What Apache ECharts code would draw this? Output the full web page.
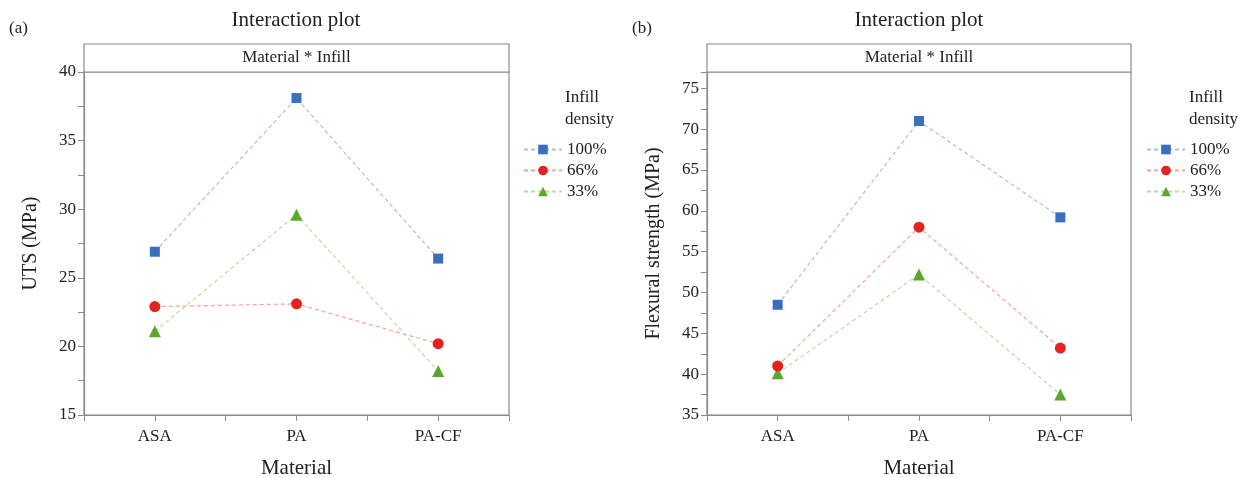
<!DOCTYPE html>
<html>
<head>
<meta charset="utf-8">
<script src="https://cdn.jsdelivr.net/npm/echarts@6/dist/echarts.min.js"></script>
<style>
  html, body { margin: 0; padding: 0; background: #fff; }
  #chart { width: 1246px; height: 478px; }
</style>
</head>
<body>
<div id="chart"></div>
<script>
const categories = ['ASA', 'PA', 'PA-CF']
const infillNames = ['100%', '66%', '33%']

// (a) UTS
const uts100 = [26.9, 38.1, 26.4]
const uts66 = [22.9, 23.1, 20.2]
const uts33 = [21.1, 29.6, 18.2]

// (b) flexural strength
const flex100 = [48.5, 71.0, 59.2]
const flex66 = [41.0, 58.0, 43.2]
const flex33 = [40.1, 52.2, 37.5]

const markColors = ['#3a6fc0', '#e4231f', '#58a92b']
const lineColors = ['#a9bfe3', '#f2a59c', '#bcdb9f']
const symbols = ['rect', 'circle', 'triangle']
const symbolSizes = [10, 11, 12]

const font = 'Liberation Serif'
const axisGray = '#8a8a8a'

const chart = echarts.init(document.getElementById('chart'))

function toPoints(vals) {
  return vals.map((v, i) => [i + 1, v])
}

function xAxisFor(idx) {
  return {
    type: 'value',
    gridIndex: idx,
    min: 0.5,
    max: 3.5,
    interval: 0.5,
    name: 'Material',
    nameLocation: 'middle',
    nameGap: 43,
    nameTextStyle: { fontFamily: font, fontSize: 21, color: '#222' },
    axisLine: { lineStyle: { color: axisGray, width: 1.2 } },
    axisTick: { lineStyle: { color: axisGray }, length: 6 },
    splitLine: { show: false },
    axisLabel: {
      fontFamily: font,
      fontSize: 17,
      color: '#222',
      margin: 13,
      formatter: v => (Number.isInteger(v) && v >= 1 && v <= 3 ? categories[v - 1] : '')
    }
  }
}

function yAxisFor(idx, min, max, name) {
  return {
    type: 'value',
    gridIndex: idx,
    min: min,
    max: max,
    interval: 5,
    name: name,
    nameLocation: 'middle',
    nameGap: 43,
    nameTextStyle: { fontFamily: font, fontSize: 20, color: '#222' },
    axisLine: { show: true, lineStyle: { color: axisGray, width: 1.2 } },
    axisTick: { show: true, lineStyle: { color: axisGray }, length: 6 },
    minorTick: { show: true, splitNumber: 2, length: 6, lineStyle: { color: axisGray } },
    splitLine: { show: false },
    axisLabel: {
      fontFamily: font,
      fontSize: 17,
      color: '#222',
      margin: 8,
      formatter: v => (v % 5 === 0 ? String(v) : '')
    }
  }
}

function seriesFor(idx, sets) {
  return sets.map((vals, k) => ({
    name: infillNames[k],
    type: 'line',
    xAxisIndex: idx,
    yAxisIndex: idx,
    data: toPoints(vals),
    symbol: symbols[k],
    symbolSize: symbolSizes[k],
    itemStyle: { color: markColors[k] },
    lineStyle: { color: lineColors[k], width: 1.2, type: [4, 3] },
    z: 3 - k
  }))
}

function legendFor(left) {
  return {
    data: infillNames,
    orient: 'vertical',
    left: left,
    top: 136,
    itemGap: 4,
    itemWidth: 38,
    itemHeight: 12,
    selectedMode: false,
    textStyle: { fontFamily: font, fontSize: 17, color: '#222' }
  }
}

function stripFor(x, w, label) {
  return {
    type: 'group',
    children: [
      {
        type: 'rect',
        shape: { x: x, y: 44, width: w, height: 28 },
        style: { fill: '#fff', stroke: axisGray, lineWidth: 1.2 }
      },
      {
        type: 'text',
        x: x + w / 2,
        y: 58,
        style: { text: label, fontFamily: font, fontSize: 17, fill: '#222', align: 'center', verticalAlign: 'middle' }
      }
    ]
  }
}

function textAt(x, y, str, size, align) {
  return {
    type: 'text',
    x: x,
    y: y,
    style: { text: str, fontFamily: font, fontSize: size, fill: '#222', align: align || 'left', verticalAlign: 'middle' }
  }
}

const option = {
  backgroundColor: '#fff',
  animation: false,
  grid: [
    { left: 84, right: 737, top: 72, bottom: 63, show: true, borderColor: axisGray, borderWidth: 1.2, outerBoundsMode: 'none', containLabel: false },
    { left: 707, right: 115, top: 72, bottom: 63, show: true, borderColor: axisGray, borderWidth: 1.2, outerBoundsMode: 'none', containLabel: false }
  ],
  xAxis: [xAxisFor(0), xAxisFor(1)],
  yAxis: [
    yAxisFor(0, 15, 40, 'UTS (MPa)'),
    yAxisFor(1, 35, 77, 'Flexural strength (MPa)')
  ],
  legend: [legendFor(518), legendFor(1141)],
  graphic: [
    stripFor(84, 425, 'Material * Infill'),
    stripFor(707, 424, 'Material * Infill'),
    textAt(296, 20, 'Interaction plot', 21, 'center'),
    textAt(919, 20, 'Interaction plot', 21, 'center'),
    textAt(9, 29, '(a)', 17),
    textAt(632, 29, '(b)', 17),
    textAt(565, 98, 'Infill', 17),
    textAt(565, 120, 'density', 17),
    textAt(1189, 98, 'Infill', 17),
    textAt(1189, 120, 'density', 17)
  ],
  series: [].concat(
    seriesFor(0, [uts100, uts66, uts33]),
    seriesFor(1, [flex100, flex66, flex33])
  )
}

chart.setOption(option)
</script>
</body>
</html>
